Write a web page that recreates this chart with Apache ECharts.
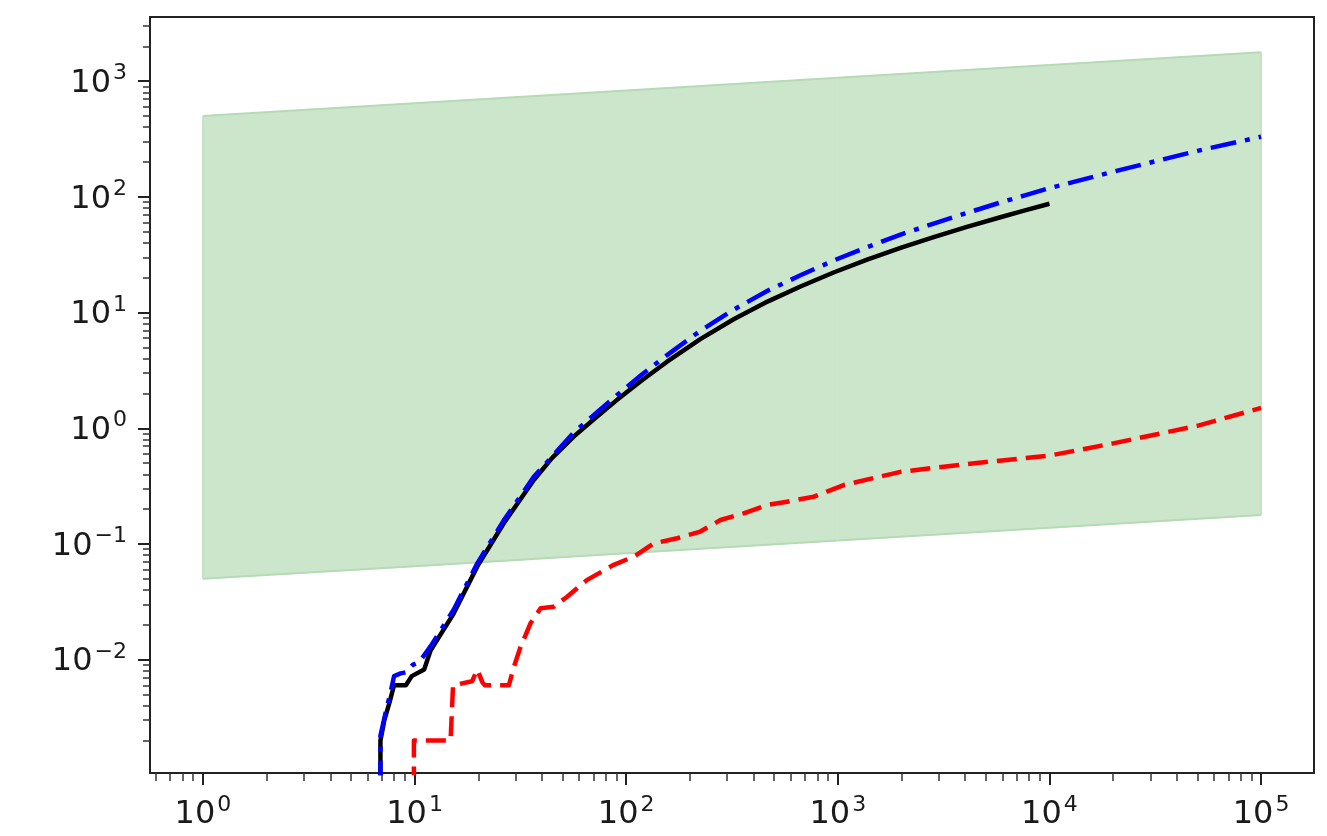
<!DOCTYPE html>
<html><head><meta charset="utf-8">
<script src="https://cdn.jsdelivr.net/npm/echarts@6/dist/echarts.min.js"></script>
<style>html,body{margin:0;padding:0;background:#fff}#c{width:1327px;height:836px}</style>
</head><body><div id="c"></div>
<script>
// ---- data ----
const bandX     = [1, 10, 100, 1000, 10000, 100000];
const bandUpper = [500, 645, 830, 1070, 1380, 1780];
const bandLower = [0.05, 0.064, 0.083, 0.107, 0.138, 0.178];

const blackX = [6.9, 6.9, 7.2, 7.6, 8.0, 9.1, 9.7, 11.1, 11.9, 15.3, 19.8, 26.4, 36.6, 44.7, 56.5, 70.8, 90.6, 117.5, 156, 224, 322, 468, 666, 955, 1375, 1995, 2838, 4074, 5863, 7586, 10000];
const blackY = [0.0008, 0.002, 0.003, 0.0042, 0.006, 0.006, 0.0072, 0.0082, 0.012, 0.025, 0.064, 0.151, 0.357, 0.555, 0.846, 1.21, 1.76, 2.56, 3.76, 5.9, 8.75, 12.5, 16.8, 22.2, 28.7, 36.5, 44.9, 55.0, 66.7, 76.0, 87.3];

const blueX = [6.9, 6.9, 7.3, 7.7, 8.0, 8.6, 9.2, 9.8, 10.5, 11.9, 15.3, 19.8, 26.4, 36.6, 56.5, 90.6, 117.5, 156, 224, 322, 468, 666, 955, 1375, 1995, 2838, 4074, 5863, 7586, 10000, 20000, 50000, 100000];
const blueY = [0.0008, 0.0022, 0.0035, 0.0052, 0.0072, 0.0076, 0.0078, 0.009, 0.0095, 0.013, 0.027, 0.068, 0.16, 0.38, 0.92, 1.94, 2.87, 4.29, 6.96, 10.6, 15.5, 21.0, 28.2, 36.7, 47.5, 58.8, 72.6, 89.4, 102.6, 119, 165, 250, 331];

const redX = [9.93, 9.93, 14.8, 15.2, 18.7, 19.8, 20.9, 21.5, 27.9, 29.5, 31.7, 35.3, 39.4, 45.5, 52.6, 65.4, 87.3, 108.6, 135, 174, 224, 279, 359, 464, 576, 770, 1066, 1977, 3000, 5000, 10000, 20000, 50000, 100000];
const redY = [0.0008, 0.002, 0.002, 0.006, 0.0065, 0.0082, 0.0064, 0.006, 0.006, 0.0087, 0.0129, 0.0206, 0.0278, 0.0287, 0.035, 0.0489, 0.066, 0.0776, 0.101, 0.112, 0.128, 0.161, 0.184, 0.217, 0.232, 0.256, 0.323, 0.42, 0.46, 0.51, 0.58, 0.74, 1.05, 1.5];

const xMajorTicks = [1, 10, 100, 1000, 10000, 100000];
const yMajorTicks = [0.01, 0.1, 1, 10, 100, 1000];
const minorMultipliers = [2, 3, 4, 5, 6, 7, 8, 9];

// ---- axis ranges ----
const xMin = Math.pow(10, -0.25), xMax = Math.pow(10, 5.25);
const yMin = Math.pow(10, -2.98), yMax = Math.pow(10, 3.555);

function minorTicks(lo, hi, n0, n1) {
  const out = [];
  for (let n = n0; n <= n1; n++) {
    for (const k of minorMultipliers) {
      const v = k * Math.pow(10, n);
      if (v > lo && v < hi) out.push(v);
    }
  }
  return out;
}
const xMinorTicks = minorTicks(xMin, xMax, -1, 5);
const yMinorTicks = minorTicks(yMin, yMax, -3, 3);

const TXT = '#1a1a1a';
const FONT = 'DejaVu Sans';
function powLabel(v) {
  const e = Math.round(Math.log10(v));
  const s = e < 0 ? '\u2212' + (-e) : String(e);
  return '{b|10}{s|' + s + '}';
}
const rich = {
  b: { fontFamily: FONT, fontSize: 32, lineHeight: 37, verticalAlign: 'bottom', color: TXT },
  s: { fontFamily: FONT, fontSize: 22, lineHeight: 22, verticalAlign: 'top', color: TXT, padding: [0, 0, 0, 2] }
};

const chart = echarts.init(document.getElementById('c'), null, { renderer: 'canvas' });

const option = {
  animation: false,
  backgroundColor: '#ffffff',
  grid: { left: 150, right: 13, top: 17, bottom: 63, containLabel: false, outerBoundsMode: 'none' },
  xAxis: [
    {
      type: 'log', min: xMin, max: xMax, position: 'bottom',
      axisLine: { show: true, onZero: false, lineStyle: { color: '#222', width: 2 } },
      axisTick: { show: true, inside: false, length: 12, customValues: xMajorTicks, lineStyle: { color: '#222', width: 2 } },
      axisLabel: { show: true, margin: 21, customValues: xMajorTicks, formatter: powLabel, rich: rich },
      splitLine: { show: false }, minorTick: { show: false }
    },
    {
      type: 'log', min: xMin, max: xMax, position: 'bottom',
      axisLine: { show: false },
      axisTick: { show: true, inside: false, length: 8, customValues: xMinorTicks, lineStyle: { color: '#333', width: 1.5 } },
      axisLabel: { show: false }, splitLine: { show: false }
    },
    {
      type: 'value', min: 0, max: 1, position: 'top',
      axisLine: { show: true, onZero: false, lineStyle: { color: '#222', width: 2 } },
      axisTick: { show: false }, axisLabel: { show: false }, splitLine: { show: false }
    }
  ],
  yAxis: [
    {
      type: 'log', min: yMin, max: yMax, position: 'left',
      axisLine: { show: true, onZero: false, lineStyle: { color: '#222', width: 2 } },
      axisTick: { show: true, inside: false, length: 12, customValues: yMajorTicks, lineStyle: { color: '#222', width: 2 } },
      axisLabel: { show: true, margin: 23, customValues: yMajorTicks, formatter: powLabel, rich: rich },
      splitLine: { show: false }, minorTick: { show: false }
    },
    {
      type: 'log', min: yMin, max: yMax, position: 'left',
      axisLine: { show: false },
      axisTick: { show: true, inside: false, length: 7, customValues: yMinorTicks, lineStyle: { color: '#333', width: 1.5 } },
      axisLabel: { show: false }, splitLine: { show: false }
    },
    {
      type: 'value', min: 0, max: 1, position: 'right',
      axisLine: { show: true, onZero: false, lineStyle: { color: '#222', width: 2 } },
      axisTick: { show: false }, axisLabel: { show: false }, splitLine: { show: false }
    }
  ],
  series: [
    {
      type: 'custom', name: 'band', xAxisIndex: 0, yAxisIndex: 0, silent: true, z: 1,
      data: bandX.map((x, i) => [x, bandUpper[i], bandLower[i]]),
      encode: { x: 0, y: [1, 2] },
      renderItem: function (params, api) {
        const i = params.dataIndex;
        if (i >= bandX.length - 1) return null;
        const a = api.coord([bandX[i], bandUpper[i]]);
        const b = api.coord([bandX[i + 1], bandUpper[i + 1]]);
        const c = api.coord([bandX[i + 1], bandLower[i + 1]]);
        const d = api.coord([bandX[i], bandLower[i]]);
        const children = [
          { type: 'polygon', shape: { points: [a, b, c, d] }, style: { fill: '#cce6cc', stroke: '#cce6cc', lineWidth: 1 } },
          { type: 'line', shape: { x1: a[0], y1: a[1], x2: b[0], y2: b[1] }, style: { stroke: '#b6dab6', lineWidth: 2 } },
          { type: 'line', shape: { x1: d[0], y1: d[1], x2: c[0], y2: c[1] }, style: { stroke: '#b6dab6', lineWidth: 2 } }
        ];
        if (i === 0) children.push({ type: 'line', shape: { x1: a[0], y1: a[1], x2: d[0], y2: d[1] }, style: { stroke: '#c2e0c2', lineWidth: 1.5 } });
        if (i === bandX.length - 2) children.push({ type: 'line', shape: { x1: b[0], y1: b[1], x2: c[0], y2: c[1] }, style: { stroke: '#c2e0c2', lineWidth: 1.5 } });
        return { type: 'group', children: children };
      }
    },
    {
      type: 'line', name: 'black', xAxisIndex: 0, yAxisIndex: 0, z: 3,
      data: blackX.map((x, i) => [x, blackY[i]]),
      showSymbol: false, symbol: 'none', smooth: false, clip: true,
      lineStyle: { color: '#000000', width: 4.5, cap: 'butt', join: 'round' }
    },
    {
      type: 'line', name: 'red', xAxisIndex: 0, yAxisIndex: 0, z: 4,
      data: redX.map((x, i) => [x, redY[i]]),
      showSymbol: false, symbol: 'none', smooth: false, clip: true,
      lineStyle: { color: '#ff0000', width: 4.5, type: [20, 9], cap: 'butt', join: 'round' }
    },
    {
      type: 'line', name: 'blue', xAxisIndex: 0, yAxisIndex: 0, z: 5,
      data: blueX.map((x, i) => [x, blueY[i]]),
      showSymbol: false, symbol: 'none', smooth: false, clip: true,
      lineStyle: { color: '#0000ff', width: 4.5, type: [26, 9, 5, 9], cap: 'butt', join: 'round' }
    }
  ]
};
chart.setOption(option);
</script>
</body></html>
